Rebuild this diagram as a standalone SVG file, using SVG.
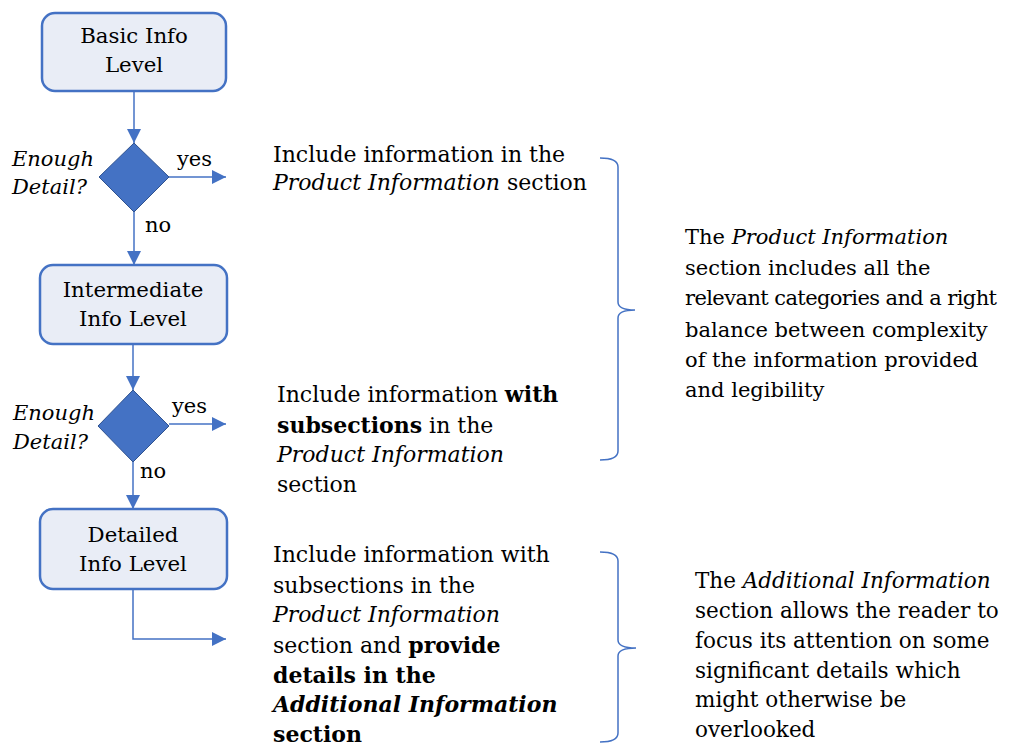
<svg xmlns="http://www.w3.org/2000/svg" width="1022" height="749" viewBox="0 0 1022 749">
  <style>
    text { font-family: "DejaVu Serif", "Liberation Serif", serif; fill: #000; }
    .box { fill: #E9EDF6; stroke: #4472C4; stroke-width: 2.5; }
    .dia { fill: #4472C4; stroke: #2F528F; stroke-width: 1; }
    .lbl { font-size: 21.3px; text-anchor: middle; }
    .q { font-size: 21px; font-style: italic; }
    .yn { font-size: 21px; }
    .txt { font-size: 22px; }
    .note { font-size: 21px; }
    .note2 { font-size: 21.5px; }
    .conn { fill: none; stroke: #4472C4; stroke-width: 1.5; }
    .brace { fill: none; stroke: #4472C4; stroke-width: 1.5; }
    .i { font-style: italic; }
    .b { font-weight: bold; }
  </style>
  <defs>
    <marker id="arrow" markerUnits="userSpaceOnUse" markerWidth="16" markerHeight="16" refX="14" refY="7" orient="auto">
      <path d="M0,0 L14,7 L0,14 Z" fill="#4472C4"/>
    </marker>
  </defs>

  <!-- connectors -->
  <g id="connectors">
    <path class="conn" d="M134,91 V143" marker-end="url(#arrow)"/>
    <path class="conn" d="M169,177 H226" marker-end="url(#arrow)"/>
    <path class="conn" d="M134,212 V265" marker-end="url(#arrow)"/>
    <path class="conn" d="M133,344 V390" marker-end="url(#arrow)"/>
    <path class="conn" d="M169,424 H226" marker-end="url(#arrow)"/>
    <path class="conn" d="M133,462 V509" marker-end="url(#arrow)"/>
    <path class="conn" d="M133,589 V639 H226" marker-end="url(#arrow)"/>
  </g>

  <!-- levels -->
  <g id="basic">
    <rect class="box" x="42" y="13" width="184" height="78" rx="13"/>
    <text class="lbl" x="134" y="43">Basic Info</text>
    <text class="lbl" x="134" y="72">Level</text>
  </g>
  <g id="check1">
    <polygon class="dia" points="134,143 169,177 134,212 99,177"/>
    <text class="q" x="12" y="166">Enough</text>
    <text class="q" x="12" y="194">Detail?</text>
    <text class="yn" x="177" y="166">yes</text>
    <text class="yn" x="145" y="232">no</text>
  </g>
  <g id="intermediate">
    <rect class="box" x="40" y="265" width="187" height="79" rx="13"/>
    <text class="lbl" x="133" y="297">Intermediate</text>
    <text class="lbl" x="133" y="326">Info Level</text>
  </g>
  <g id="check2">
    <polygon class="dia" points="133,390 169,426 133,462 98,426"/>
    <text class="q" x="13" y="420">Enough</text>
    <text class="q" x="13" y="449">Detail?</text>
    <text class="yn" x="172" y="413">yes</text>
    <text class="yn" x="140" y="478">no</text>
  </g>
  <g id="detailed">
    <rect class="box" x="40" y="509" width="187" height="80" rx="13"/>
    <text class="lbl" x="133" y="542">Detailed</text>
    <text class="lbl" x="133" y="571">Info Level</text>
  </g>

  <!-- outcomes -->
  <g id="outcome1">
    <text class="txt" x="273" y="162">Include information in the</text>
    <text class="txt" x="273" y="190"><tspan class="i">Product Information</tspan> section</text>
  </g>
  <g id="outcome2">
    <text class="txt" x="277" y="402">Include information <tspan class="b">with</tspan></text>
    <text class="txt" x="277" y="433"><tspan class="b">subsections</tspan> in the</text>
    <text class="txt i" x="277" y="462">Product Information</text>
    <text class="txt" x="277" y="492">section</text>
  </g>
  <g id="outcome3">
    <text class="txt" x="273" y="562">Include information with</text>
    <text class="txt" x="273" y="593">subsections in the</text>
    <text class="txt i" x="273" y="622">Product Information</text>
    <text class="txt" x="273" y="653">section and <tspan class="b">provide</tspan></text>
    <text class="txt b" x="273" y="683">details in the</text>
    <text class="txt b i" x="273" y="712">Additional Information</text>
    <text class="txt b" x="273" y="742">section</text>
  </g>

  <!-- braces -->
  <g id="brace1">
    <path class="brace" d="M600,158 Q618,158 618,167 V302 Q618,310 635,310 Q618,310 618,318 V451 Q618,460 600,460"/>
  </g>
  <g id="brace2">
    <path class="brace" d="M600,552 Q618,552 618,561 V640 Q618,648 636,648 Q618,648 618,656 V733 Q618,742 600,742"/>
  </g>

  <!-- notes -->
  <g id="note1">
    <text class="note" x="685" y="244">The <tspan class="i">Product Information</tspan></text>
    <text class="note" x="685" y="275">section includes all the</text>
    <text class="note" x="685" y="305" textLength="312" lengthAdjust="spacing">relevant categories and a right</text>
    <text class="note" x="685" y="337">balance between complexity</text>
    <text class="note" x="685" y="367">of the information provided</text>
    <text class="note" x="685" y="397">and legibility</text>
  </g>
  <g id="note2">
    <text class="note2" x="695" y="588">The <tspan class="i">Additional Information</tspan></text>
    <text class="note2" x="695" y="618">section allows the reader to</text>
    <text class="note2" x="695" y="648">focus its attention on some</text>
    <text class="note2" x="695" y="678">significant details which</text>
    <text class="note2" x="695" y="707">might otherwise be</text>
    <text class="note2" x="695" y="737">overlooked</text>
  </g>
</svg>
